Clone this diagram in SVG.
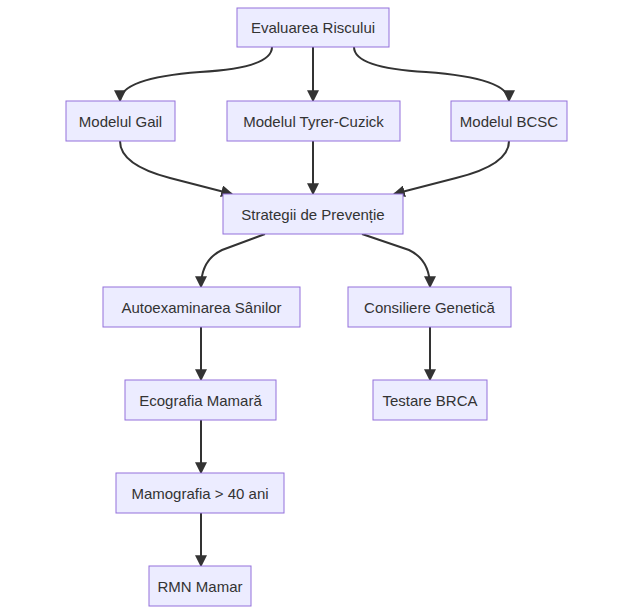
<svg xmlns="http://www.w3.org/2000/svg" width="634" height="615" viewBox="0 0 634 615">
<style>
.n rect{fill:#ECECFF;stroke:#9370DB;stroke-width:1}
.n text{font-family:"Liberation Sans",Arial,sans-serif;font-size:15px;fill:#333;text-anchor:middle;dominant-baseline:central}
.e path{fill:none;stroke:#333;stroke-width:2}
</style>
<defs><marker id="a" viewBox="0 0 10 10" refX="9" refY="5" markerWidth="6" markerHeight="6" orient="auto"><path d="M0,0L10,5L0,10z" fill="#333"/></marker></defs>
<rect width="634" height="615" fill="#fff"/>
<g class="e">
<path marker-end="url(#a)" d="M272 47 Q272 68 200 72 Q120 78 120 101"/>
<path marker-end="url(#a)" d="M313 47 L313 101"/>
<path marker-end="url(#a)" d="M354 47 Q354 68 426 72 Q509 78 509 101"/>
<path marker-end="url(#a)" d="M120 141 Q120 165 170 178 L232 194"/>
<path marker-end="url(#a)" d="M313 141 L313 194"/>
<path marker-end="url(#a)" d="M509 141 Q509 165 456 178 L394 194"/>
<path marker-end="url(#a)" d="M265 234 L222 250 Q201 260 201 287"/>
<path marker-end="url(#a)" d="M362 234 L409 250 Q430 260 430 287"/>
<path marker-end="url(#a)" d="M201 327 L201 380"/>
<path marker-end="url(#a)" d="M430 327 L430 380"/>
<path marker-end="url(#a)" d="M201 420 L201 473"/>
<path marker-end="url(#a)" d="M201 513 L201 566"/>
</g>
<g id="n1" class="n"><rect x="237" y="8" width="152" height="39"/><text x="313" y="27.5">Evaluarea Riscului</text></g>
<g id="n2" class="n"><rect x="66" y="101" width="109" height="40"/><text x="120.5" y="121">Modelul Gail</text></g>
<g id="n3" class="n"><rect x="227" y="101" width="173" height="40"/><text x="313.5" y="121">Modelul Tyrer-Cuzick</text></g>
<g id="n4" class="n"><rect x="451" y="101" width="116" height="40"/><text x="509" y="121">Modelul BCSC</text></g>
<g id="n5" class="n"><rect x="223" y="194" width="180" height="40"/><text x="313" y="214">Strategii de Prevenție</text></g>
<g id="n6" class="n"><rect x="103" y="287" width="197" height="40"/><text x="201.5" y="307">Autoexaminarea Sânilor</text></g>
<g id="n7" class="n"><rect x="348" y="287" width="163" height="40"/><text x="429.5" y="307">Consiliere Genetică</text></g>
<g id="n8" class="n"><rect x="125" y="380" width="151" height="40"/><text x="200.5" y="400">Ecografia Mamară</text></g>
<g id="n9" class="n"><rect x="373" y="380" width="114" height="40"/><text x="430" y="400">Testare BRCA</text></g>
<g id="n10" class="n"><rect x="116" y="473" width="168" height="40"/><text x="200" y="493">Mamografia &gt; 40 ani</text></g>
<g id="n11" class="n"><rect x="149" y="566" width="102" height="40"/><text x="200" y="586">RMN Mamar</text></g>
</svg>
